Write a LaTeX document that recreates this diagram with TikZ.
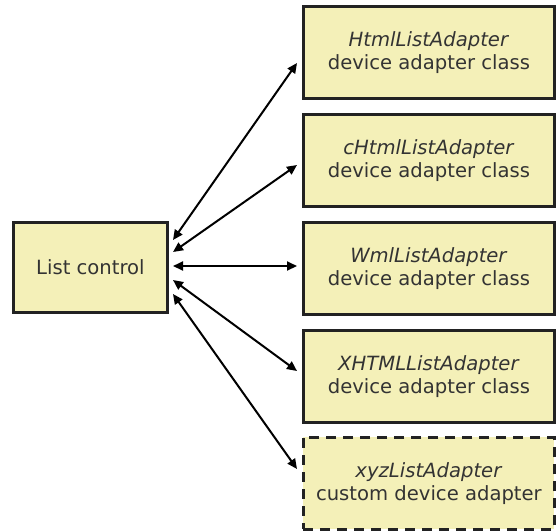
\documentclass[tikz,border=0pt]{standalone}
\usepackage{fontspec}
\setmainfont{DejaVu Sans}
\usetikzlibrary{arrows.meta}
\definecolor{boxfill}{HTML}{F4F0B8}
\definecolor{boxline}{HTML}{222222}
\definecolor{txt}{HTML}{333333}
\begin{document}
\begin{tikzpicture}[x=1pt,y=-1pt,
  box/.style={draw=boxline,line width=2.8pt,fill=boxfill,text=txt,
    minimum width=251pt,minimum height=92pt,align=center,anchor=north west,
    font=\fontsize{19.6}{23}\selectfont,inner sep=0pt},
  lbox/.style={draw=boxline,line width=2.8pt,fill=boxfill,text=txt,
    minimum width=154pt,minimum height=90pt,align=center,anchor=north west,
    font=\fontsize{19.6}{23}\selectfont,inner sep=0pt},
  conn/.style={{Triangle[length=10pt,width=9pt]}-{Triangle[length=10pt,width=9pt]},line width=2pt,black}]
\useasboundingbox (0,0) rectangle (556,531);
\node[lbox] (lc) at (12,221) {List control};
\node[box] (b1) at (302,5) {\textit{HtmlListAdapter}\\device adapter class};
\node[box] (b2) at (302,113) {\textit{cHtmlListAdapter}\\device adapter class};
\node[box] (b3) at (302,221) {\textit{WmlListAdapter}\\device adapter class};
\node[box] (b4) at (302,329) {\textit{XHTMLListAdapter}\\device adapter class};
\node[box,dashed,dash pattern=on 10pt off 7pt] (b5) at (302,436) {\textit{xyzListAdapter}\\custom device adapter};
\coordinate (s1) at (173,240);
\coordinate (s2) at (173,252);
\coordinate (s3) at (173,266);
\coordinate (s4) at (173,280);
\coordinate (s5) at (173,294);
\coordinate (e1) at (297,63);
\coordinate (e2) at (297,165);
\coordinate (e3) at (297,266);
\coordinate (e4) at (297,371);
\coordinate (e5) at (297,469);
\foreach \i in {1,...,5} \draw[conn] (s\i) -- (e\i);
\end{tikzpicture}
\end{document}
